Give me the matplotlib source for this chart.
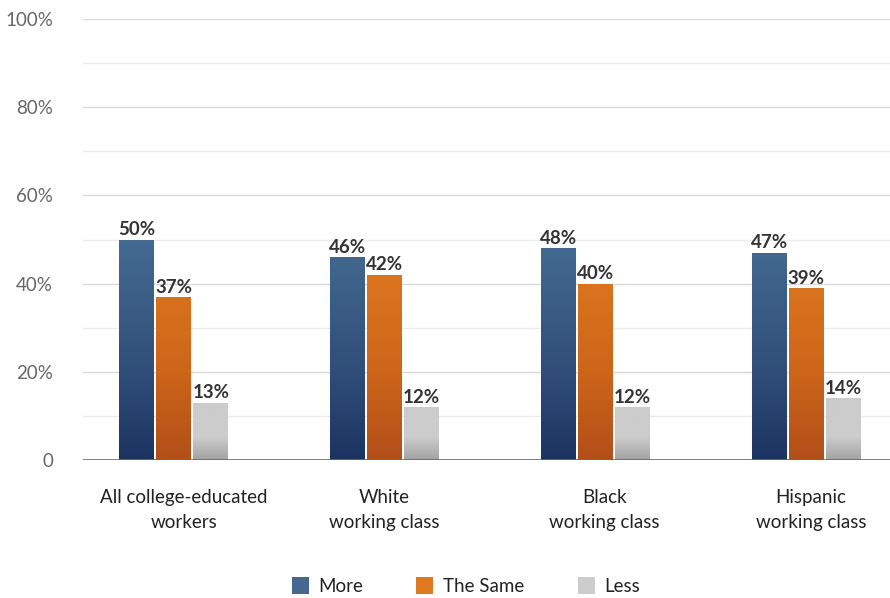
import numpy as np
import matplotlib
matplotlib.use("Agg")
import matplotlib.pyplot as plt
from matplotlib.patches import Rectangle
from matplotlib.colors import LinearSegmentedColormap
from matplotlib.transforms import ScaledTranslation

plt.rcParams['font.family'] = ['Lato', 'DejaVu Sans']

categories = ["All college-educated\nworkers", "White\nworking class",
              "Black\nworking class", "Hispanic\nworking class"]
series_names = ["More", "The Same", "Less"]
more = [50, 46, 48, 47]
same = [37, 42, 40, 39]
less = [13, 12, 12, 14]
yticks = [0, 20, 40, 60, 80, 100]
ytick_labels = ["0", "20%", "40%", "60%", "80%", "100%"]

series = [more, same, less]
legend_colors = ["#44688f", "#e07a1f", "#cccccc"]
# (value, colour) stops along the y axis for each series' gradient
gradients = [
    [(0, "#1c3360"), (20, "#2f4e79"), (50, "#456b92"), (100, "#456b92")],
    [(0, "#b24f19"), (20, "#cd6519"), (50, "#e07b1f"), (100, "#e07b1f")],
    [(0, "#a4a4a4"), (5, "#cccccc"), (100, "#cccccc")],
]

W, H = 890, 598
fig = plt.figure(figsize=(W / 100, H / 100), dpi=100)
ax_left, ax_right, ax_top, ax_bottom = 83, 890, 19, 460
ax = fig.add_axes([ax_left / W, 1 - ax_bottom / H,
                   (ax_right - ax_left) / W, (ax_bottom - ax_top) / H])

for y in range(10, 101, 10):
    ax.axhline(y, color="#d9d9d9" if y % 20 == 0 else "#ececec",
               lw=1.0, zorder=0)
ax.axhline(0, color="#6b6b6b", lw=1.2, zorder=5)

bar_w = 0.166
step = 0.1754
x = np.arange(len(categories))
grad = np.linspace(0, 1, 256).reshape(-1, 1)
for i, (vals, stops) in enumerate(zip(series, gradients)):
    cmap = LinearSegmentedColormap.from_list(
        f"g{i}", [(v / 100, c) for v, c in stops])
    for xi, v in zip(x, vals):
        cx = xi + (i - 1) * step
        rect = Rectangle((cx - bar_w / 2, 0), bar_w, v, facecolor="none",
                         edgecolor="none")
        ax.add_patch(rect)
        im = ax.imshow(grad, cmap=cmap, vmin=0, vmax=1, origin="lower",
                       extent=[cx - bar_w / 2, cx + bar_w / 2, 0, 100],
                       aspect="auto", zorder=2, interpolation="bilinear")
        im.set_clip_path(rect)
        ax.text(cx, v + 0.3, f"{v}%", ha="center", va="bottom",
                fontsize=13.5, fontweight="bold", color="#333333", zorder=4)

ax.set_xlim(-0.431, 3.398)
ax.set_ylim(0, 100)
ax.set_yticks(yticks)
ax.set_yticklabels(ytick_labels)
ax.tick_params(axis="y", length=0, pad=21.5, labelsize=13.5, labelcolor="#666666")
ax.set_xticks(x)
ax.set_xticklabels(categories, linespacing=1.55)
ax.tick_params(axis="x", length=0, pad=21, labelsize=13.5, labelcolor="#222222")
# nudge category labels sideways (in pixels)
label_shift_px = [10, 0, 9, 5]
for lbl, dx in zip(ax.get_xticklabels(), label_shift_px):
    lbl.set_transform(lbl.get_transform() +
                      ScaledTranslation(dx / 100, 0, fig.dpi_scale_trans))
for s in ax.spines.values():
    s.set_visible(False)

# legend along the bottom
leg_items = [(292, 318), (416, 443), (578, 604)]
for (sx, tx), name, col in zip(leg_items, series_names, legend_colors):
    fig.patches.append(Rectangle((sx / W, 1 - 594 / H), 17 / W, 17 / H,
                                 transform=fig.transFigure, facecolor=col,
                                 edgecolor="none"))
    fig.text(tx / W, 1 - 586 / H, name, ha="left", va="center",
             fontsize=13.5, color="#222222")

fig.savefig("out.png", dpi=100)
